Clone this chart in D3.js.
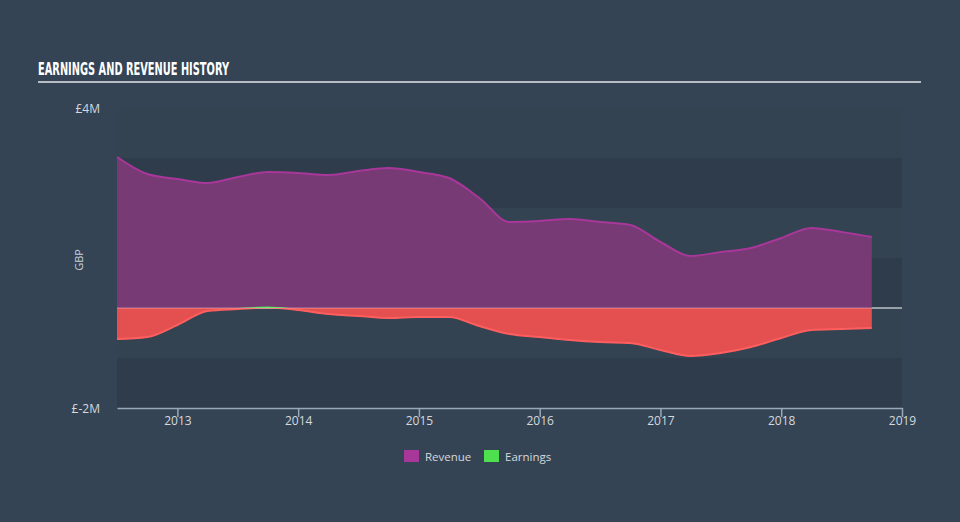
<!DOCTYPE html>
<html><head><meta charset="utf-8">
<script src="https://cdn.jsdelivr.net/npm/d3@7"></script>
<style>
html,body{margin:0;padding:0;background:#344454;}
svg{display:block;}
</style></head>
<body><svg id="chart" width="960" height="522"></svg>
<script>
// ---- data ----
const dates = [2012.5,2012.75,2013.0,2013.25,2013.5,2013.75,2014.0,2014.25,2014.5,2014.75,2015.0,2015.25,2015.5,2015.75,2016.0,2016.25,2016.5,2016.75,2017.0,2017.25,2017.5,2017.75,2018.0,2018.25,2018.5,2018.75];
const revenue = [3.02,2.68,2.58,2.50,2.62,2.72,2.70,2.66,2.74,2.80,2.72,2.60,2.20,1.72,1.74,1.78,1.72,1.66,1.32,1.04,1.12,1.20,1.40,1.60,1.52,1.42];
const earnings = [-0.62,-0.58,-0.34,-0.06,-0.02,0.01,-0.04,-0.12,-0.16,-0.20,-0.18,-0.18,-0.36,-0.52,-0.58,-0.64,-0.68,-0.70,-0.84,-0.96,-0.90,-0.78,-0.60,-0.44,-0.42,-0.40];
const xTicks = [2013,2014,2015,2016,2017,2018,2019];
const yTickValues = [4,-2];
const yTickLabels = ["£4M","£-2M"];
const bandEdges = [4,3,2,1,0,-1,-2];
const legendItems = ["Revenue","Earnings"];

(function(){
const svg = d3.select("#chart");
const W = 960, H = 522;
const pL = 117, pR = 902, pT = 108, pB = 408;

const x = d3.scaleLinear().domain([2012.5, 2019]).range([pL, pR]);
const y = d3.scaleLinear().domain([-2, 4]).range([pB, pT]);

svg.append("rect").attr("width", W).attr("height", H).attr("fill", "#344454");

// title
svg.append("text").attr("x", 38).attr("y", 75)
  .attr("font-family", "'DejaVu Sans Condensed','Liberation Sans Narrow','DejaVu Sans',sans-serif")
  .attr("font-weight", "bold").attr("font-size", 18).attr("fill", "#ffffff")
  .attr("textLength", 191).attr("lengthAdjust", "spacingAndGlyphs")
  .text("EARNINGS AND REVENUE HISTORY");
svg.append("line").attr("x1", 38).attr("x2", 921).attr("y1", 82).attr("y2", 82)
  .attr("stroke", "#b6bcc4").attr("stroke-width", 2);

// bands
const bands = d3.pairs(bandEdges);
svg.append("g").selectAll("rect").data(bands).join("rect")
  .attr("x", pL).attr("width", pR - pL)
  .attr("y", d => y(d[0])).attr("height", d => y(d[1]) - y(d[0]))
  .attr("fill", (d, i) => i % 2 === 1 ? "#2f3c4b" : "#334352");

const data = dates.map((d, i) => ({t: d, r: revenue[i], e: earnings[i]}));
const curve = d3.curveMonotoneX;

// zero line
svg.append("line").attr("x1", pL).attr("x2", pR).attr("y1", y(0)).attr("y2", y(0))
  .attr("stroke", "#ffffff").attr("stroke-width", 1.2);

// revenue area
svg.append("path").datum(data)
  .attr("d", d3.area().curve(curve).x(d => x(d.t)).y0(y(0)).y1(d => y(d.r)))
  .attr("fill", "#7a3a76").attr("fill-opacity", 0.97);
svg.append("path").datum(data)
  .attr("d", d3.line().curve(curve).x(d => x(d.t)).y(d => y(d.r)))
  .attr("fill", "none").attr("stroke", "#a8379a").attr("stroke-width", 2);

// earnings with clip for positive/negative
const defs = svg.append("defs");
defs.append("clipPath").attr("id", "pos").append("rect")
  .attr("x", pL).attr("width", pR - pL).attr("y", pT - 50).attr("height", y(0) - pT + 50);
defs.append("clipPath").attr("id", "neg").append("rect")
  .attr("x", pL).attr("width", pR - pL).attr("y", y(0)).attr("height", pB - y(0) + 50);
const eArea = d3.area().curve(curve).x(d => x(d.t)).y0(y(0)).y1(d => y(d.e));
const eLine = d3.line().curve(curve).x(d => x(d.t)).y(d => y(d.e));
[["pos", "#3fb84f", "#4ee04e"], ["neg", "#ea5050", "#ff5e5e"]].forEach(([id, fill, stroke]) => {
  const g = svg.append("g").attr("clip-path", `url(#${id})`);
  g.append("path").datum(data).attr("d", eArea).attr("fill", fill).attr("fill-opacity", 0.97);
  g.append("path").datum(data).attr("d", eLine).attr("fill", "none").attr("stroke", stroke).attr("stroke-width", 2);
});
svg.append("line").attr("x1", pL).attr("x2", x(dates[dates.length-1])).attr("y1", y(0)).attr("y2", y(0))
  .attr("stroke", "#ffffff").attr("stroke-opacity", 0.35).attr("stroke-width", 1);

// x axis
const xAxis = d3.axisBottom(x).tickValues(xTicks).tickFormat(d3.format("d")).tickSize(9).tickSizeOuter(0);
const gx = svg.append("g").attr("transform", `translate(0,${pB})`).call(xAxis);
gx.select(".domain").attr("stroke", "#9aa8b8").attr("stroke-width", 1.5);
gx.selectAll(".tick line").attr("stroke", "#9aa8b8").attr("stroke-width", 1.5);
gx.selectAll(".tick text").attr("fill", "#d4d9df").attr("font-size", 12)
  .attr("font-family", "'Open Sans',sans-serif").attr("dy", "0.1em").attr("y", 16);

// y labels
const yAxis = d3.axisLeft(y).tickValues(yTickValues).tickFormat((d, i) => yTickLabels[i]).tickSize(0);
const gy = svg.append("g").attr("transform", `translate(${pL - 14},1)`).call(yAxis);
gy.select(".domain").remove();
gy.selectAll(".tick text").attr("fill", "#d4d9df").attr("font-size", 12)
  .attr("font-family", "'Open Sans',sans-serif");

svg.append("text").attr("transform", `translate(83,260) rotate(-90)`)
  .attr("text-anchor", "middle").attr("fill", "#c8ced6").attr("font-size", 11)
  .attr("font-family", "'Open Sans',sans-serif").text("GBP");

// legend
const legColors = ["#a8379a", "#4ee04e"];
const legX = [404, 484];
const lg = svg.append("g").selectAll("g").data(legendItems).join("g")
  .attr("transform", (d, i) => `translate(${legX[i]},450)`);
lg.append("rect").attr("width", 15).attr("height", 12).attr("fill", (d, i) => legColors[i]);
lg.append("text").attr("x", 21).attr("y", 10.5).attr("fill", "#d4d9df").attr("font-size", 11.5)
  .attr("font-family", "'Open Sans',sans-serif").text(d => d);
})();
</script></body></html>
